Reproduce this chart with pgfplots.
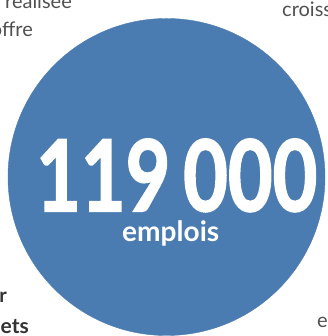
\documentclass[border=0pt]{standalone}
\usepackage{pgfplots}
\pgfplotsset{compat=1.18}
\usepackage{graphicx}
\usepackage{fontspec}
\setmainfont{Lato}
\newfontfamily\heavyfont{Lato}[BoldFeatures={FakeBold=2}]
\definecolor{circleblue}{HTML}{4A7BB1}
\definecolor{txtgrey}{HTML}{505050}
\definecolor{darkgrey}{HTML}{333333}
\begin{document}
\begin{tikzpicture}
\useasboundingbox (0,0) rectangle (328pt,336pt);
\clip (0,0) rectangle (328pt,336pt);
\begin{axis}[at={(0,0)}, anchor=south west, width=328pt, height=336pt,
  scale only axis, hide axis, xmin=0, xmax=328, ymin=0, ymax=336, clip=false]
\addplot[only marks, mark=*, mark size=158.5pt, color=circleblue, mark options={draw=none, fill=circleblue}]
  coordinates {(166.5,159)};
\coordinate (num) at (axis cs:36,124);
\coordinate (emp) at (axis cs:122,94);
\node[anchor=base east, inner sep=0, text=txtgrey, font=\fontsize{20}{22}\selectfont] at (axis cs:72,327) {réalisée};
\node[anchor=base east, inner sep=0, text=txtgrey, font=\fontsize{20}{22}\selectfont] at (axis cs:33,299) {offre};
\node[anchor=base west, inner sep=0, text=txtgrey, font=\fontsize{20}{22}\selectfont] at (axis cs:282,319) {croissance};
\node[anchor=base west, inner sep=0, text=txtgrey, font=\fontsize{20}{22}\selectfont] at (axis cs:317,8) {en};
\node[anchor=base east, inner sep=0, text=darkgrey, font=\fontsize{20}{22}\selectfont\bfseries] at (axis cs:7,33) {pour};
\node[anchor=base east, inner sep=0, text=darkgrey, font=\fontsize{21}{22}\selectfont\bfseries] at (axis cs:29,2) {projets};
\end{axis}
\node[anchor=south west, inner sep=0, text=white] at (num)
  {\resizebox{281pt}{72pt}{\heavyfont\bfseries 119\,000}};
\node[anchor=base west, inner sep=0, text=white] at (emp)
  {\resizebox{97pt}{!}{\bfseries emplois}};
\end{tikzpicture}
\end{document}
